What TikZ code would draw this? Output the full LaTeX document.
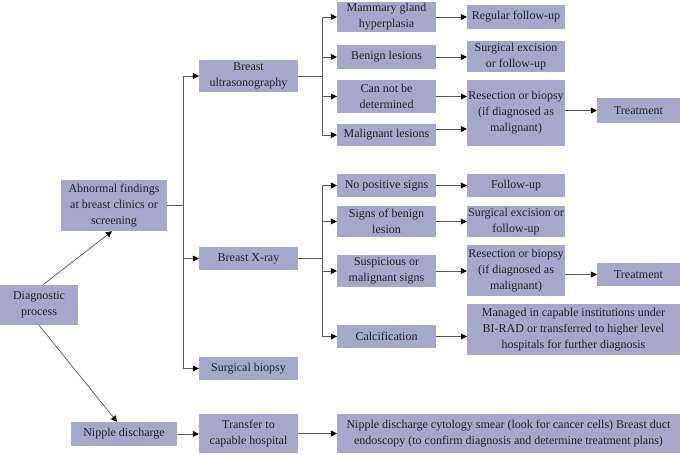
\documentclass[tikz,border=0pt]{standalone}
\usepackage{fontspec}
\setmainfont{Liberation Serif}
\usetikzlibrary{arrows.meta}
\definecolor{boxc}{RGB}{166,168,202}
\definecolor{txt}{RGB}{35,35,40}
\definecolor{lnc}{RGB}{90,90,90}
\begin{document}
\begin{tikzpicture}[x=1pt,y=-1pt,
  box/.style={fill=boxc,text=txt,align=center,inner sep=0pt,font=\fontsize{12}{16}\selectfont},
  conn/.style={draw=lnc,line width=0.7pt},
  arr/.style={conn,-{Triangle[length=6pt,width=6pt,color=black]}}]
\useasboundingbox (0,0) rectangle (680,455);
% nodes
\node[box,minimum width=78pt,minimum height=40pt] (diag) at (39,305) {Diagnostic\\process};
\node[box,minimum width=106pt,minimum height=51pt] (abn) at (114,205.5) {Abnormal findings\\at breast clinics or\\screening};
\node[box,minimum width=106pt,minimum height=24pt] (nd) at (124,434) {Nipple discharge};
\node[box,minimum width=99pt,minimum height=32pt] (us) at (248.5,76) {Breast\\ultrasonography};
\node[box,minimum width=99pt,minimum height=23pt] (xray) at (248.5,258.5) {Breast X-ray};
\node[box,minimum width=99pt,minimum height=23pt] (sb) at (248.5,368.5) {Surgical biopsy};
\node[box,minimum width=99pt,minimum height=39pt] (tr) at (248.5,433.5) {Transfer to\\capable hospital};
\node[box,minimum width=343pt,minimum height=39pt] (ndc) at (508.5,433.5) {Nipple discharge cytology smear (look for cancer cells) Breast duct\\endoscopy (to confirm diagnosis and determine treatment plans)};
% ultrasonography branch
\node[box,minimum width=99pt,minimum height=30pt] (mg) at (386.5,17) {Mammary gland\\hyperplasia};
\node[box,minimum width=99pt,minimum height=24pt] (bl) at (386.5,57) {Benign lesions};
\node[box,minimum width=99pt,minimum height=33pt] (cnd) at (386.5,96.5) {Can not be\\determined};
\node[box,minimum width=99pt,minimum height=22pt] (ml) at (386.5,135) {Malignant lesions};
\node[box,minimum width=98pt,minimum height=24pt] (rf) at (516,17) {Regular follow-up};
\node[box,minimum width=98pt,minimum height=31pt] (se1) at (516,56.5) {Surgical excision\\or follow-up};
\node[box,minimum width=98pt,minimum height=66pt] (rb1) at (516,113) {Resection or biopsy\\(if diagnosed as\\malignant)};
\node[box,minimum width=83pt,minimum height=25pt] (t1) at (638.5,110.5) {Treatment};
% X-ray branch
\node[box,minimum width=99pt,minimum height=23pt] (nps) at (386.5,185.5) {No positive signs};
\node[box,minimum width=99pt,minimum height=31pt] (sbl) at (386.5,221.5) {Signs of benign\\lesion};
\node[box,minimum width=99pt,minimum height=32pt] (sms) at (386.5,271) {Suspicious or\\malignant signs};
\node[box,minimum width=99pt,minimum height=23pt] (cal) at (386.5,336.5) {Calcification};
\node[box,minimum width=98pt,minimum height=23pt] (fu) at (516,185.5) {Follow-up};
\node[box,minimum width=98pt,minimum height=31pt] (se2) at (516,221.5) {Surgical excision or\\follow-up};
\node[box,minimum width=98pt,minimum height=51pt] (rb2) at (516,270.5) {Resection or biopsy\\(if diagnosed as\\malignant)};
\node[box,minimum width=83pt,minimum height=23pt] (t2) at (638.5,274.5) {Treatment};
\node[box,minimum width=213pt,minimum height=51pt] (man) at (573.5,329.5) {Managed in capable institutions under\\BI-RAD or transferred to higher level\\hospitals for further diagnosis};
% bus coordinates
\coordinate (b1) at (183,0);
\coordinate (b2) at (322,0);
% diagnostic process
\draw[arr] ([xshift=4pt]diag.north) -- ([xshift=-2pt]abn.south);
\draw[arr] (diag.south) -- ([xshift=-7pt]nd.north);
% abnormal findings bus
\draw[conn] (abn.east) -- (abn.east -| b1);
\draw[conn] (b1 |- us.west) -- (b1 |- sb.west);
\draw[arr] (b1 |- us.west) -- (us.west);
\draw[arr] (b1 |- xray.west) -- (xray.west);
\draw[arr] (b1 |- sb.west) -- (sb.west);
% ultrasonography bus
\draw[conn] (us.east) -- (us.east -| b2);
\draw[conn] (b2 |- mg.west) -- (b2 |- ml.west);
\draw[arr] (b2 |- mg.west) -- (mg.west);
\draw[arr] (b2 |- bl.west) -- (bl.west);
\draw[arr] (b2 |- cnd.west) -- (cnd.west);
\draw[arr] (b2 |- ml.west) -- (ml.west);
\draw[arr] (mg.east) -- (rf.west);
\draw[arr] (bl.east) -- (bl.east -| se1.west);
\draw[arr] (cnd.east) -- (cnd.east -| rb1.west);
\coordinate (m1) at ([yshift=6pt]ml.east);
\draw[arr] (m1) -- (m1 -| rb1.west);
\draw[arr] (t1.west -| rb1.east) -- (t1.west);
% X-ray bus
\draw[conn] (xray.east) -- (xray.east -| b2);
\draw[conn] (b2 |- nps.west) -- (b2 |- cal.west);
\draw[arr] (b2 |- nps.west) -- (nps.west);
\draw[arr] (b2 |- sbl.west) -- (sbl.west);
\draw[arr] (b2 |- sms.west) -- (sms.west);
\draw[arr] (b2 |- cal.west) -- (cal.west);
\draw[arr] (nps.east) -- (fu.west);
\draw[arr] (sbl.east) -- (se2.west);
\draw[arr] (sms.east) -- (sms.east -| rb2.west);
\draw[arr] (t2.west -| rb2.east) -- (t2.west);
\draw[arr] (cal.east) -- (cal.east -| man.west);
% nipple discharge
\draw[arr] (nd.east) -- (nd.east -| tr.west);
\draw[arr] (tr.east) -- (tr.east -| ndc.west);
\end{tikzpicture}
\end{document}
